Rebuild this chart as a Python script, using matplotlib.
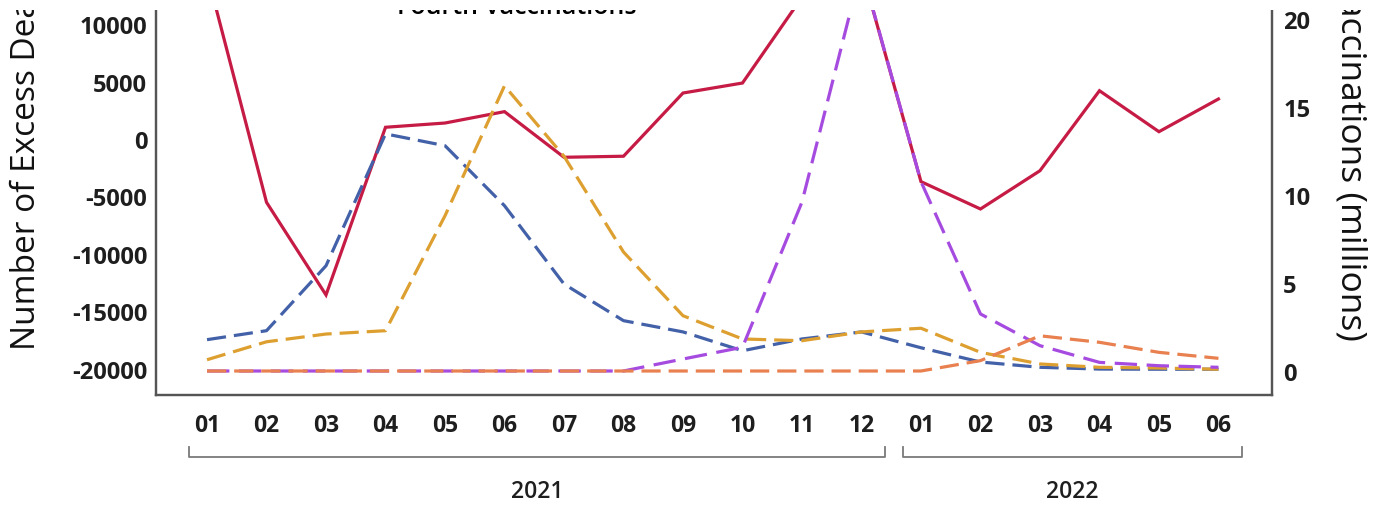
import matplotlib
matplotlib.use('Agg')
import matplotlib.pyplot as plt
from matplotlib.patches import Rectangle
from matplotlib.lines import Line2D

# month labels along the x axis, grouped by year
months = ['01', '02', '03', '04', '05', '06', '07', '08', '09', '10', '11', '12',
          '01', '02', '03', '04', '05', '06']
years = ['2021', '2022']
months_per_year = [12, 6]

# excess deaths (left axis)
excess_deaths = [14400, -5510, -13570, 1020, 1390, 2380, -1590, -1500, 4000, 4870,
                 12330, 14800, -3710, -6090, -2760, 4200, 635, 3480]

# vaccinations in millions (right axis)
first_vacc = [1.78, 2.29, 5.98, 13.47, 12.8, 9.39, 4.94, 2.86, 2.22, 1.15, 1.82, 2.22,
              1.32, 0.51, 0.21, 0.11, 0.1, 0.1]
second_vacc = [0.64, 1.66, 2.1, 2.29, 8.82, 16.2, 12.2, 6.76, 3.14, 1.82, 1.72, 2.22,
               2.43, 1.06, 0.4, 0.21, 0.17, 0.1]
third_vacc = [0, 0, 0, 0, 0, 0, 0, 0, 0.68, 1.35, 9.6, 22.9,
              10.76, 3.24, 1.44, 0.49, 0.3, 0.21]
fourth_vacc = [0, 0, 0, 0, 0, 0, 0, 0, 0, 0, 0, 0,
               0, 0.59, 2.0, 1.63, 1.06, 0.72]

legend_labels = ['Excess Deaths', 'First Vaccinations', 'Second Vaccinations',
                 'Third Vaccinations', 'Fourth Vaccinations']

RED = '#C51B45'
BLUE = '#4361A8'
GOLD = '#DDA030'
PURPLE = '#A64BE0'
ORANGE = '#E8804F'
SPINE = '#555555'
TEXT = '#1e1e1e'

plt.rcParams['font.family'] = ['Open Sans', 'DejaVu Sans']
plt.rcParams['axes.unicode_minus'] = False

W, H = 1373, 506
fig = plt.figure(figsize=(W / 100, H / 100), dpi=100)

# the plot is cropped at the top in the reference, so the axes run past the figure
ax_left, ax_right = 155.5 / W, 1272 / W
ax_bottom_px, ax_top_px = 395.5, -95
ax = fig.add_axes([ax_left, (H - ax_bottom_px) / H, ax_right - ax_left,
                   (ax_bottom_px - ax_top_px) / H])
ax2 = ax.twinx()

x = list(range(len(months)))

ax.plot(x, excess_deaths, color=RED, lw=2.3, solid_joinstyle='miter')
ax2.plot(x, first_vacc, color=BLUE, lw=2.3, dashes=(6, 2.5))
ax2.plot(x, second_vacc, color=GOLD, lw=2.3, dashes=(6, 2.5))
ax2.plot(x, third_vacc, color=PURPLE, lw=2.3, dashes=(7, 3))
ax2.plot(x, fourth_vacc, color=ORANGE, lw=2.3, dashes=(6, 2.5))

ax.set_xlim(-0.866, 17.9)
ax.set_ylim(-22230, 20445)
ax2.set_ylim(-1.335, 26.53)

ax.set_yticks(range(-20000, 20001, 5000))
ax2.set_yticks(range(0, 26, 5))
ax.set_xticks(x)
ax.set_xticklabels(months)

ax.tick_params(axis='y', length=0, pad=6, labelsize=17, labelcolor=TEXT)
ax2.tick_params(axis='y', length=0, pad=8, labelsize=17, labelcolor=TEXT)
ax.tick_params(axis='x', length=0, pad=13, labelsize=16.5, labelcolor=TEXT)
for lab in ax.get_yticklabels() + ax2.get_yticklabels() + ax.get_xticklabels():
    lab.set_fontweight('bold')

for a in (ax, ax2):
    for s in a.spines.values():
        s.set_color(SPINE)
        s.set_linewidth(1.6)
    a.patch.set_visible(False)

# year brackets under the month labels
tr = ax.get_xaxis_transform()
start = 0
for yr, n in zip(years, months_per_year):
    x0, x1 = start - 0.3, start + n - 1 + 0.4
    ax.plot([x0, x0, x1, x1], [-0.107, -0.1274, -0.1274, -0.107], transform=tr,
            color='#7a7a7a', lw=1.3, clip_on=False)
    ax.text((x0 + x1) / 2, -0.197, yr, transform=tr, ha='center', va='center',
            fontsize=16.5, fontweight='semibold', color=TEXT)
    start += n

# axis titles
fig.text(27 / W, (H - 350) / H, 'Number of Excess Deaths', rotation=90,
         ha='center', va='bottom', fontsize=24, fontweight='medium', color='#111111')
fig.text(1350 / W, (H - 341) / H, 'Number of Vaccinations (millions)', rotation=270,
         ha='center', va='bottom', fontsize=25.5, fontweight='medium', color='#111111')

handles = [Line2D([], [], color=RED, lw=2.3),
           Line2D([], [], color=BLUE, lw=2.3, dashes=(6, 2.5)),
           Line2D([], [], color=GOLD, lw=2.3, dashes=(6, 2.5)),
           Line2D([], [], color=PURPLE, lw=2.3, dashes=(7, 3)),
           Line2D([], [], color='#F5B48E', lw=2.3)]
ax2.legend(handles, legend_labels, loc='lower left', frameon=False,
           bbox_to_anchor=(337 / W, (H - 20) / H), bbox_transform=fig.transFigure,
           borderpad=0, borderaxespad=0, handlelength=1.6, handletextpad=0.8,
           prop={'weight': 'semibold', 'size': 18})

# white band over the top edge, as in the cropped reference
fig.patches.append(Rectangle((0, 1 - 11 / H), 1, 11 / H, transform=fig.transFigure,
                             facecolor='white', edgecolor='none', zorder=10))

fig.savefig('out.png', dpi=100)
